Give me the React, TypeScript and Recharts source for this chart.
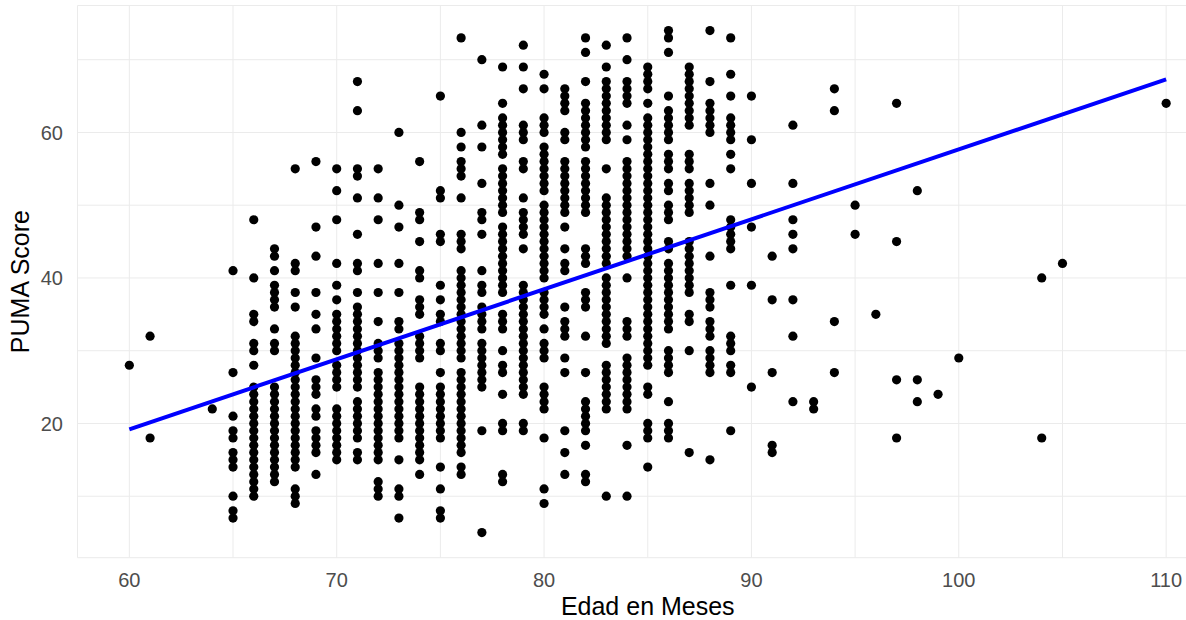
import { CartesianGrid, Scatter, ScatterChart, XAxis, YAxis } from 'recharts';

// Edad (meses) and the PUMA scores seen at each age
const ages = [
  60, 61, 64, 65, 66, 67, 68, 69, 70, 71, 72, 73, 74, 75, 76, 77, 78, 79, 80, 81, 82, 83, 84, 85,
  86, 87, 88, 89, 90, 91, 92, 93, 94, 95, 96, 97, 98, 99, 100, 104, 105, 110,
];

const scoresByAge: number[][] = [
  [28],
  [32, 18],
  [22],
  [41, 27, 21, 19, 18, 16, 15, 14, 10, 8, 7],
  [48, 40, 35, 34, 31, 30, 28, 25, 24, 23, 22, 21, 20, 19, 18, 17, 16, 15, 14, 13, 12, 11, 10],
  [44, 43, 41, 39, 38, 37, 36, 33, 31, 30, 25, 24, 23, 22, 21, 20, 19, 18, 17, 16, 15, 14, 13, 12],
  [55, 42, 41, 38, 36, 32, 31, 30, 29, 28, 27, 26, 25, 24, 23, 22, 21, 20, 19, 18, 17, 16, 15, 14, 11, 10, 9],
  [56, 47, 43, 38, 35, 33, 29, 26, 25, 24, 22, 21, 19, 18, 17, 16, 13],
  [55, 52, 48, 42, 39, 37, 35, 34, 33, 32, 31, 30, 28, 27, 26, 25, 22, 21, 20, 19, 18, 17, 16, 15],
  [67, 63, 55, 54, 51, 46, 42, 41, 38, 36, 35, 34, 33, 32, 31, 30, 29, 28, 27, 26, 25, 23, 22, 21, 20, 19, 18, 16, 15],
  [55, 51, 48, 42, 38, 34, 31, 30, 29, 27, 26, 25, 24, 23, 22, 21, 20, 19, 18, 17, 16, 15, 12, 11, 10],
  [60, 50, 47, 42, 38, 34, 33, 31, 30, 29, 28, 27, 26, 25, 24, 23, 22, 21, 20, 19, 18, 15, 11, 10, 7],
  [56, 49, 48, 45, 41, 40, 37, 36, 35, 32, 31, 30, 29, 25, 24, 23, 22, 21, 20, 19, 18, 17, 16, 15, 13],
  [65, 52, 51, 46, 45, 39, 37, 35, 34, 31, 30, 27, 25, 24, 23, 22, 21, 20, 19, 18, 14, 11, 8, 7],
  [73, 60, 58, 56, 55, 54, 51, 46, 45, 44, 41, 40, 39, 38, 37, 36, 35, 34, 33, 32, 31, 30, 29, 27, 26, 25, 24, 23, 22, 21, 20, 19, 18, 17, 16, 14, 13],
  [70, 61, 58, 53, 49, 48, 46, 41, 39, 38, 36, 35, 34, 33, 31, 30, 29, 28, 27, 26, 25, 19, 5],
  [69, 64, 62, 61, 60, 59, 58, 57, 55, 54, 53, 52, 51, 50, 49, 47, 46, 45, 44, 43, 42, 41, 40, 39, 38, 35, 34, 33, 30, 28, 27, 24, 20, 19, 13, 12],
  [72, 69, 66, 61, 60, 59, 56, 55, 51, 49, 48, 47, 46, 44, 39, 38, 37, 36, 35, 34, 33, 32, 31, 30, 29, 28, 27, 26, 25, 24, 20, 19],
  [68, 66, 62, 61, 60, 58, 57, 56, 55, 54, 53, 52, 50, 49, 48, 47, 46, 45, 44, 43, 42, 41, 40, 38, 37, 36, 35, 33, 31, 30, 29, 25, 24, 23, 22, 18, 11, 9],
  [66, 65, 64, 63, 60, 59, 56, 55, 54, 53, 52, 51, 50, 49, 47, 44, 42, 41, 36, 34, 33, 32, 29, 27, 19, 16, 13],
  [73, 71, 67, 64, 63, 62, 61, 60, 59, 58, 56, 55, 54, 53, 52, 51, 50, 49, 44, 43, 42, 38, 37, 36, 32, 27, 23, 22, 21, 20, 19, 17, 13, 12],
  [72, 69, 67, 66, 65, 64, 63, 62, 61, 60, 59, 55, 51, 50, 49, 48, 47, 46, 45, 44, 43, 42, 40, 39, 38, 37, 36, 35, 34, 33, 32, 31, 28, 27, 26, 25, 24, 23, 22, 10],
  [73, 70, 67, 66, 65, 64, 61, 59, 56, 55, 54, 53, 52, 51, 50, 49, 48, 47, 46, 45, 44, 43, 40, 34, 33, 32, 29, 28, 27, 26, 25, 24, 23, 22, 17, 10],
  [69, 68, 67, 66, 64, 62, 61, 60, 59, 58, 57, 56, 55, 54, 53, 52, 51, 50, 49, 48, 47, 46, 45, 44, 43, 42, 41, 40, 39, 38, 37, 36, 35, 34, 33, 32, 31, 30, 29, 28, 25, 24, 20, 19, 18, 14],
  [74, 73, 71, 65, 63, 62, 61, 60, 59, 57, 56, 55, 53, 52, 50, 49, 48, 45, 44, 42, 41, 40, 39, 38, 37, 36, 35, 34, 33, 30, 29, 28, 27, 23, 20, 19, 18],
  [69, 68, 67, 66, 65, 64, 63, 62, 61, 57, 56, 55, 53, 52, 51, 50, 49, 45, 44, 43, 42, 41, 40, 39, 38, 35, 34, 30, 16],
  [74, 67, 64, 63, 62, 61, 60, 53, 50, 43, 38, 37, 36, 34, 33, 32, 30, 29, 28, 27, 15],
  [73, 68, 65, 62, 61, 60, 59, 57, 55, 48, 47, 46, 45, 44, 39, 32, 31, 30, 28, 27, 19],
  [65, 59, 53, 47, 39, 25],
  [43, 37, 27, 17, 16],
  [61, 53, 48, 46, 44, 37, 32, 23],
  [23, 22],
  [66, 63, 34, 27],
  [50, 46],
  [35],
  [64, 45, 26, 18],
  [52, 26, 23],
  [24],
  [29],
  [40, 18],
  [42],
  [64],
];

const fitAges = [60, 110];
const fitScores = [19.2, 67.3];

const xTicks = [60, 65, 70, 75, 80, 85, 90, 95, 100, 105, 110];
const yTicks = [10, 20, 30, 40, 50, 60, 70];

const points = ages.flatMap((age, i) => scoresByAge[i].map((score) => ({ x: age, y: score })));
const fitLine = fitAges.map((age, i) => ({ x: age, y: fitScores[i] }));

const FONT = '"Liberation Sans", Arial, sans-serif';

const Dot = (props: any) => <circle cx={props.cx} cy={props.cy} r={4.6} fill="#000000" />;

export default function App() {
  return (
    <div
      style={{
        position: 'fixed',
        left: 0,
        top: 0,
        width: 1186,
        height: 620,
        overflow: 'hidden',
        background: '#ffffff',
      }}
    >
      <ScatterChart width={1218} height={620} margin={{ top: 5.5, right: 0, bottom: 0, left: 0 }}>
        <CartesianGrid stroke="#EBEBEB" strokeWidth={1} />
        <XAxis
          type="number"
          dataKey="x"
          domain={[57.5, 112.5]}
          ticks={xTicks}
          allowDataOverflow
          tickFormatter={(v: number) => (v % 10 === 0 ? String(v) : '')}
          axisLine={false}
          tickLine={false}
          tickSize={0}
          tickMargin={15}
          height={62.3}
          tick={{ fill: '#4D4D4D', fontSize: 20, fontFamily: FONT }}
          label={{
            value: 'Edad en Meses',
            position: 'insideBottom',
            offset: 5,
            style: { fill: '#000000', fontSize: 25, fontFamily: FONT },
          }}
        />
        <YAxis
          type="number"
          dataKey="y"
          domain={[1.55, 77.45]}
          ticks={yTicks}
          allowDataOverflow
          tickFormatter={(v: number) => (v % 20 === 0 ? String(v) : '')}
          axisLine={false}
          tickLine={false}
          tickSize={0}
          tickMargin={14.5}
          width={77.5}
          tick={{ fill: '#4D4D4D', fontSize: 20, fontFamily: FONT }}
          label={{
            value: 'PUMA Score',
            angle: -90,
            position: 'insideLeft',
            offset: 20,
            style: { textAnchor: 'middle', fill: '#000000', fontSize: 25, fontFamily: FONT },
          }}
        />
        <Scatter data={points} shape={Dot} isAnimationActive={false} />
        <Scatter
          data={fitLine}
          line={{ stroke: '#0000FF', strokeWidth: 4 }}
          shape={() => <g />}
          isAnimationActive={false}
        />
      </ScatterChart>
    </div>
  );
}
